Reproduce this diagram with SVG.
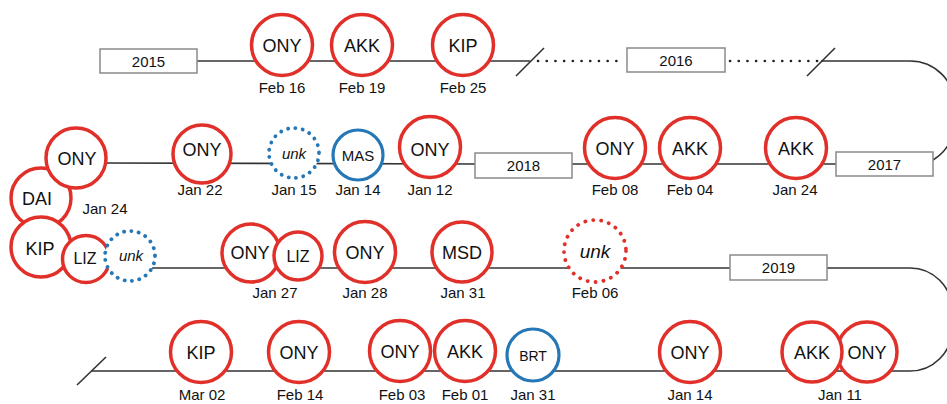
<svg xmlns="http://www.w3.org/2000/svg" width="947" height="404" viewBox="0 0 947 404">
<style>
text{font-family:"Liberation Sans",Arial,sans-serif;fill:#111;text-anchor:middle}
.lbl{font-size:18px}
.sm{font-size:15px}
.dt{font-size:15px}
.it{font-style:italic}
.r{fill:#fff;stroke:#e1302a;stroke-width:3.5}
.b{fill:#fff;stroke:#2677b6;stroke-width:3.2}
.bd{fill:#fff;stroke:#2677b6;stroke-width:3.8;stroke-dasharray:0.1 7.3;stroke-linecap:round}
.rd{fill:#fff;stroke:#e1302a;stroke-width:3.8;stroke-dasharray:0.1 7.9;stroke-linecap:round}
.box{fill:#fff;stroke:#8a8a8a;stroke-width:1.5}
.ln{fill:none;stroke:#333;stroke-width:1.6}
.dot{fill:none;stroke:#222;stroke-width:2.6;stroke-dasharray:0.1 8.6;stroke-linecap:round}
</style>
<g id="connectors">
<path class="ln" d="M197 61 L530 61"/>
<path class="dot" d="M538 61 L625 61"/>
<path class="dot" d="M730 61 L818 61"/>
<path class="ln" d="M821 61 L910 61 A45 45 0 0 1 955 106 L955 121 A45 45 0 0 1 933 160"/>
<path class="ln" d="M516 76 L544 48"/>
<path class="ln" d="M807 76 L835 48"/>
<path class="ln" d="M100 163 L475 164"/>
<path class="ln" d="M572 164 L836 164"/>
<path class="ln" d="M150 268 L730 268"/>
<path class="ln" d="M827 268 L910 268 A42 42 0 0 1 952 310 L952 329 A42 42 0 0 1 910 371 L92 371"/>
<path class="ln" d="M77 385 L106 357"/>
</g>
<g id="y2015"><rect class="box" x="100" y="49" width="97" height="24"/><text class="sm" x="148.5" y="66.5">2015</text></g>
<g id="n1"><circle class="r" cx="282" cy="45" r="30.5"/><text class="lbl" x="282" y="52">ONY</text><text class="dt" x="282" y="92.5">Feb 16</text></g>
<g id="n2"><circle class="r" cx="362" cy="45" r="30.5"/><text class="lbl" x="362" y="52">AKK</text><text class="dt" x="362" y="92.5">Feb 19</text></g>
<g id="n3"><circle class="r" cx="463" cy="45" r="30.5"/><text class="lbl" x="463" y="52">KIP</text><text class="dt" x="463" y="92.5">Feb 25</text></g>
<g id="y2016"><rect class="box" x="627" y="48" width="98" height="24"/><text class="sm" x="676" y="65.5">2016</text></g>
<g id="y2017"><rect class="box" x="836" y="152" width="97" height="24"/><text class="sm" x="884.5" y="169.5">2017</text></g>
<g id="n4"><circle class="r" cx="796" cy="148" r="30.5"/><text class="lbl" x="796" y="155">AKK</text><text class="dt" x="795" y="195">Jan 24</text></g>
<g id="n5"><circle class="r" cx="690" cy="148" r="30.5"/><text class="lbl" x="690" y="155">AKK</text><text class="dt" x="690" y="195">Feb 04</text></g>
<g id="n6"><circle class="r" cx="615" cy="148" r="30.5"/><text class="lbl" x="615" y="155">ONY</text><text class="dt" x="615" y="195">Feb 08</text></g>
<g id="y2018"><rect class="box" x="475" y="153" width="97" height="25"/><text class="sm" x="523.5" y="171">2018</text></g>
<g id="n7"><circle class="r" cx="430" cy="147" r="30.5"/><text class="lbl" x="430" y="156">ONY</text><text class="dt" x="430" y="195">Jan 12</text></g>
<g id="n8"><circle class="b" cx="358" cy="155" r="25"/><text class="sm" x="358" y="160.5">MAS</text><text class="dt" x="358" y="195">Jan 14</text></g>
<g id="n9"><circle class="bd" cx="294" cy="153" r="25"/><text class="sm it" x="294" y="158.5">unk</text><text class="dt" x="294" y="195">Jan 15</text></g>
<g id="n10"><circle class="r" cx="202" cy="154" r="29"/><text class="lbl" x="202" y="156">ONY</text><text class="dt" x="200" y="195">Jan 22</text></g>
<g id="n11"><circle class="r" cx="41" cy="198" r="30"/><text class="lbl" x="37" y="205">DAI</text></g>
<g id="n12"><circle class="r" cx="41" cy="247" r="30"/><text class="lbl" x="40" y="255">KIP</text></g>
<g id="n13"><circle class="r" cx="76" cy="158" r="30"/><text class="lbl" x="77" y="165">ONY</text><text class="dt" x="105" y="214">Jan 24</text></g>
<g id="n14"><circle class="r" cx="86" cy="259" r="23.5"/><text class="sm" x="85" y="264" style="font-size:16px">LIZ</text></g>
<g id="n15"><circle class="bd" cx="130" cy="256" r="25"/><text class="sm it" x="131" y="261">unk</text></g>
<g id="n16"><circle class="r" cx="251" cy="253" r="29"/><circle class="r" cx="298" cy="256" r="24"/><text class="lbl" x="250" y="259">ONY</text><text class="sm" x="298" y="262" style="font-size:16px">LIZ</text><text class="dt" x="275" y="298">Jan 27</text></g>
<g id="n17"><circle class="r" cx="365" cy="252" r="30.5"/><text class="lbl" x="365" y="259">ONY</text><text class="dt" x="365" y="298">Jan 28</text></g>
<g id="n18"><circle class="r" cx="462" cy="252" r="30"/><text class="lbl" x="462" y="259">MSD</text><text class="dt" x="463" y="298">Jan 31</text></g>
<g id="n19"><circle class="rd" cx="595" cy="251" r="31"/><text class="lbl it" x="595" y="258" style="font-size:19px">unk</text><text class="dt" x="595" y="298">Feb 06</text></g>
<g id="y2019"><rect class="box" x="730" y="255" width="97" height="25"/><text class="sm" x="778.5" y="273">2019</text></g>
<g id="n20"><circle class="r" cx="867" cy="352" r="30"/><text class="lbl" x="867" y="359">ONY</text></g>
<g id="n21"><circle class="r" cx="812" cy="352" r="30"/><text class="lbl" x="812" y="359">AKK</text><text class="dt" x="840" y="400">Jan 11</text></g>
<g id="n22"><circle class="r" cx="690" cy="352" r="30.5"/><text class="lbl" x="690" y="359">ONY</text><text class="dt" x="690" y="400">Jan 14</text></g>
<g id="n23"><circle class="b" cx="533" cy="355" r="26"/><text class="sm" x="533" y="360.5" style="font-size:14px">BRT</text><text class="dt" x="533" y="400">Jan 31</text></g>
<g id="n24"><circle class="r" cx="465" cy="351" r="30.5"/><text class="lbl" x="465" y="358">AKK</text><text class="dt" x="465" y="400">Feb 01</text></g>
<g id="n25"><circle class="r" cx="400" cy="351" r="30.5"/><text class="lbl" x="400" y="358">ONY</text><text class="dt" x="402" y="400">Feb 03</text></g>
<g id="n26"><circle class="r" cx="299" cy="352" r="30.5"/><text class="lbl" x="299" y="359">ONY</text><text class="dt" x="300" y="400">Feb 14</text></g>
<g id="n27"><circle class="r" cx="201" cy="352" r="30.5"/><text class="lbl" x="201" y="359">KIP</text><text class="dt" x="202" y="400">Mar 02</text></g>
</svg>
